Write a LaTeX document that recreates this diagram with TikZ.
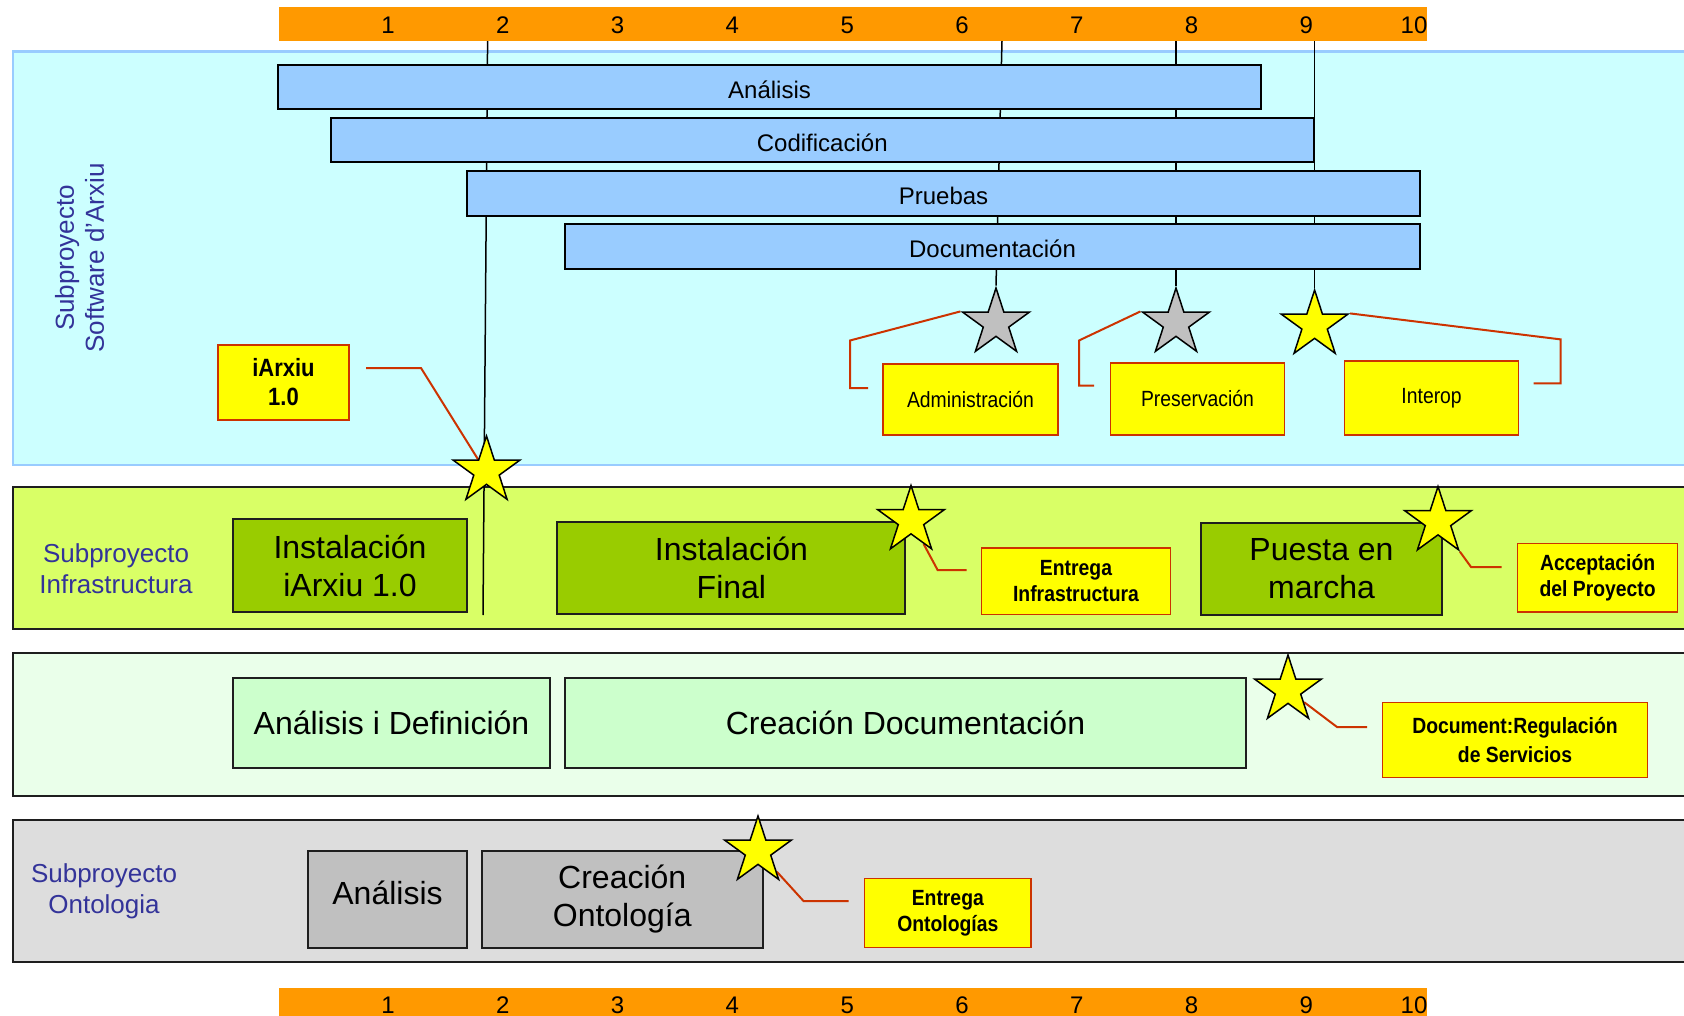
\documentclass[tikz,border=0pt]{standalone}
\usepackage{fontspec}
\setmainfont{Liberation Sans}
\newfontfamily\narrowfont[FakeStretch=0.88]{Liberation Sans}
\usepackage{tikz}
\usetikzlibrary{shapes.geometric}
\pgfdeclarelayer{back}
\pgfdeclarelayer{mid}
\pgfsetlayers{back,mid,main}
\definecolor{bar_orange}{RGB}{255,153,0}
\definecolor{panel_cyan}{RGB}{204,255,255}
\definecolor{edge_cyan}{RGB}{153,204,255}
\definecolor{panel_lime}{RGB}{217,255,102}
\definecolor{panel_mint}{RGB}{234,255,234}
\definecolor{panel_gray}{RGB}{221,221,221}
\definecolor{task_blue}{RGB}{153,204,255}
\definecolor{task_green}{RGB}{153,204,0}
\definecolor{task_mint}{RGB}{204,255,204}
\definecolor{task_gray}{RGB}{192,192,192}
\definecolor{note_yellow}{RGB}{255,255,0}
\definecolor{note_red}{RGB}{204,51,0}
\definecolor{label_blue}{RGB}{51,51,153}
\definecolor{edge_dark}{RGB}{30,30,30}

\begin{document}
\begin{tikzpicture}[x=1pt,y=-1pt,line join=miter]
    \tikzstyle{panel}=[draw=edge_dark, line width=2pt, inner sep=0pt, minimum width=1687pt]
    \tikzstyle{scalebar}=[fill=bar_orange, inner sep=0pt, minimum width=1148pt]
    \tikzstyle{tick}=[font=\fontsize{24}{28}\selectfont, inner sep=0pt]
    \tikzstyle{sublabel}=[text=label_blue, align=center, font=\fontsize{26}{31}\selectfont]
    \tikzstyle{phase}=[draw=black, line width=2pt, fill=task_blue, inner sep=0pt, minimum height=44pt, text height=22.6pt, text depth=0pt, font=\fontsize{24}{28}\selectfont]
    \tikzstyle{task}=[draw=edge_dark, line width=2pt, inner sep=0pt, align=center, font=\fontsize{32}{38}\selectfont]
    \tikzstyle{note}=[draw=note_red, line width=1.5pt, fill=note_yellow, inner sep=0pt, align=center, font=\narrowfont\fontsize{22}{26}\selectfont]
    \tikzstyle{bnote}=[style=note, font=\narrowfont\bfseries\fontsize{22}{26}\selectfont]
    \tikzstyle{mile}=[star, star points=5, star point ratio=2.618, draw=black, line width=1.5pt, fill=note_yellow, minimum size=70pt, inner sep=0pt]
    \tikzstyle{milegray}=[style=mile, fill=task_gray]
    \tikzstyle{guide}=[draw=black, line width=1.5pt]
    \tikzstyle{callout}=[draw=note_red, line width=2pt]

    \useasboundingbox (0,0) rectangle (1684,1016);

    % subproject bands
    \begin{pgfonlayer}{back}
    \node[panel, draw=edge_cyan, line width=2.5pt, fill=panel_cyan, minimum height=413.5pt] (psw) at (856.5,258.25) {};
    \node[panel, fill=panel_lime, minimum height=142.5pt] (pinf) at (856.5,557.75) {};
    \node[panel, fill=panel_mint, minimum height=143pt]   (pdoc) at (856.5,724.5)  {};
    \node[panel, fill=panel_gray, minimum height=142.5pt] (pont) at (856.5,890.75) {};
    \end{pgfonlayer}

    \node[sublabel, rotate=90, font=\fontsize{26}{30}\selectfont] (lsw) at (79.5,258) {Subproyecto\\Software d'Arxiu};
    \node[sublabel] (linf) at (116,569)   {Subproyecto\\Infrastructura};
    \node[sublabel] (lont) at (104,891.5) {Subproyecto\\Ontologia};

    % month scale, top and bottom
    \node[scalebar, minimum height=33.5pt] (top) at (853,24.25) {};
    \node[scalebar, minimum height=30pt]   (bot) at (853,1003)  {};
    \foreach \n in {1,...,9} {
      \node[tick] (t\n) at ({273.2+114.8*\n},25)   {\n};
      \node[tick] (b\n) at ({273.2+114.8*\n},1005) {\n};
    }
    \node[tick] (t10) at (1414,25)   {10};
    \node[tick] (b10) at (1414,1005) {10};

    % software phases
    \node[phase, minimum width=983pt]   (ana) at (769.5,87.5)  {Análisis};
    \node[phase, minimum width=982.5pt] (cod) at (822.25,140)  {Codificación};
    \node[phase, minimum width=953pt, minimum height=45pt] (pru) at (943.5,193.5) {Pruebas};
    \node[phase, minimum width=855pt, minimum height=45pt] (doc) at (992.5,246.5) {Documentación};

    % tasks
    \node[task, fill=task_green, minimum width=234pt, minimum height=93pt]   (ins1) at (350,565.5)  {Instalación\\iArxiu 1.0};
    \node[task, fill=task_green, minimum width=348pt, minimum height=92pt]   (ins2) at (731.4,568)  {Instalación\\Final};
    \node[task, fill=task_green, minimum width=241.5pt, minimum height=92pt] (pue)  at (1321.5,569) {Puesta en\\marcha};
    \node[task, fill=task_mint, minimum width=317pt, minimum height=90pt]    (aid)  at (391.5,723)  {Análisis i Definición};
    \node[task, fill=task_mint, minimum width=681pt, minimum height=90pt]    (cdo)  at (905.5,723)  {Creación Documentación};
    \node[task, fill=task_gray, minimum width=159pt, minimum height=97pt, text depth=13pt] (aon) at (387.5,899) {Análisis};
    \node[task, fill=task_gray, minimum width=280.5pt, minimum height=97pt]  (con)  at (622.25,899) {Creación\\Ontología};

    % deliverables
    \node[bnote, minimum width=131pt, minimum height=75pt, font=\narrowfont\bfseries\fontsize{25}{29}\selectfont] (iax) at (283.5,382.5) {iArxiu\\1.0};
    \node[note, minimum width=175pt, minimum height=71pt] (adm) at (970.5,399.5) {Administración};
    \node[note, minimum width=174pt, minimum height=72pt] (pre) at (1197.5,399)  {Preservación};
    \node[note, minimum width=174pt, minimum height=74pt] (itp) at (1431.6,398)  {Interop};
    \node[bnote, minimum width=189pt, minimum height=66.5pt] (ein) at (1076,581)    {Entrega\\Infrastructura};
    \node[bnote, minimum width=160pt, minimum height=68.5pt] (acc) at (1597.6,577.7) {Acceptación\\del Proyecto};
    \node[bnote, minimum width=265pt, minimum height=75pt, font=\narrowfont\bfseries\fontsize{22}{29}\selectfont] (drs) at (1515,740) {Document:Regulación\\de Servicios};
    \node[bnote, minimum width=166.5pt, minimum height=69pt] (eon) at (947.8,913) {Entrega\\Ontologías};

    % milestones
    \node[milegray] (st1) at (996,323)    {};
    \node[milegray] (st2) at (1176,323)   {};
    \node[mile]     (st3) at (1314.6,325) {};
    \node[mile]     (stA) at (486.5,471)  {};
    \node[mile]     (stB) at (911,520.5)  {};
    \node[mile]     (stC) at (1438,521.5) {};
    \node[mile]     (stD) at (1288,690)   {};
    \node[mile]     (stE) at (758,851)    {};

    \coordinate (m1) at (487.6,41);
    \coordinate (m2) at (1002,41);
    \coordinate (m3) at (1176,41);
    \coordinate (m4) at (1314.6,41);
    \coordinate (m1e) at (483,615);
    \coordinate (iaxc) at (366,368);
    \coordinate (admc) at (868,388);
    \coordinate (prec) at (1094,385.5);
    \coordinate (itpc) at (1533.7,383.4);
    \coordinate (einc) at (966.6,570);
    \coordinate (accc) at (1501.5,567);
    \coordinate (drsc) at (1367,727);
    \coordinate (eonc) at (848.5,901);

    \begin{pgfonlayer}{mid}
    \draw[guide] (m1) -- (m1e);
    \draw[guide] (m2) -- (st1.outer point 1);
    \draw[guide] (m3) -- (st2.outer point 1);
    \draw[guide] (m4) -- (st3.outer point 1);

    \draw[callout] (iaxc) -- ++(55,0) -- (stA.inner point 1);
    \draw[callout] (admc) -- ++(-18,0) -- ++(0,-47.5) -- (st1.outer point 2);
    \draw[callout] (prec) -- ++(-15,0) -- ++(0,-45) -- (st2.outer point 2);
    \draw[callout] (itpc) -- ++(27,0) -- ++(0,-44) -- (st3.outer point 5);
    \draw[callout] (einc) -- ++(-29,0) -- (stB);
    \draw[callout] (accc) -- ++(-30.5,0) -- (stC);
    \draw[callout] (drsc) -- ++(-30,0) -- (stD);
    \draw[callout] (eonc) -- ++(-45,0) -- (stE);
    \end{pgfonlayer}
\end{tikzpicture}
\end{document}
